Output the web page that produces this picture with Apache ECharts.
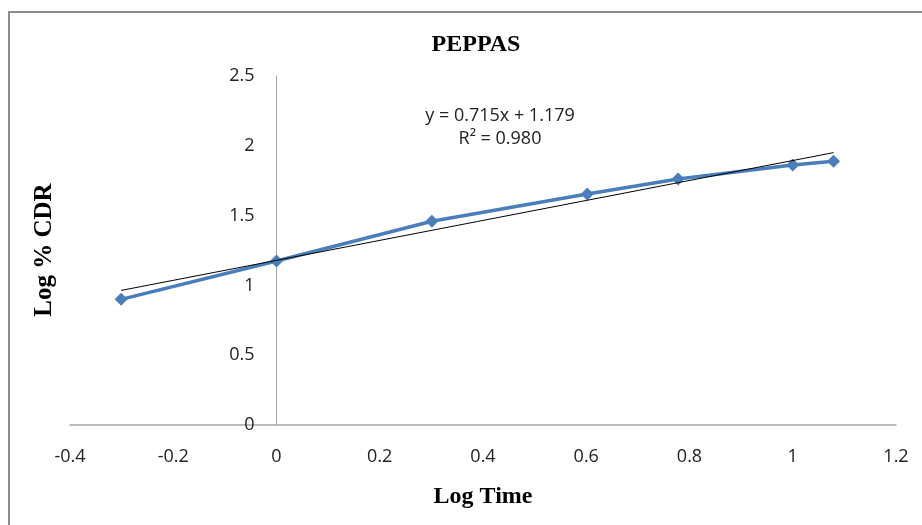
<!DOCTYPE html>
<html>
<head>
<meta charset="utf-8">
<script src="https://cdn.jsdelivr.net/npm/echarts@6/dist/echarts.min.js"></script>
<style>
  html, body { margin: 0; padding: 0; background: #fff; }
  #chart { width: 922px; height: 525px; }
  .frame {
    position: absolute; left: 8px; top: 11px; width: 930px; height: 530px;
    border: 2px solid #8c8c8c; box-sizing: border-box; pointer-events: none;
  }
</style>
</head>
<body>
<div id="chart"></div>
<div class="frame"></div>
<script>
// data
const logTime = [-0.301, 0, 0.301, 0.602, 0.778, 1, 1.079]
const logCdr = [0.90, 1.175, 1.46, 1.655, 1.762, 1.862, 1.89]
// linear trendline end points
const trendX = [-0.301, 1.079]
const trendY = [0.964, 1.951]
const equationText = 'y = 0.715x + 1.179\nR² = 0.980'

const chart = echarts.init(document.getElementById('chart'))

const tickFont = { fontFamily: 'Open Sans', fontSize: 18, color: '#222' }
const gridLeft = 70
const gridRight = 26
const xMin = -0.4
const xMax = 1.2
// move the y axis to x = 0
const plotWidth = 922 - gridLeft - gridRight
const yAxisOffset = -plotWidth * (0 - xMin) / (xMax - xMin)

const option = {
  animation: false,
  title: [
    {
      text: 'PEPPAS',
      left: 471,
      top: 28,
      textAlign: 'center',
      textStyle: { fontFamily: 'Liberation Serif', fontWeight: 'bold', fontSize: 24, color: '#000' }
    },
    {
      text: equationText,
      left: 495,
      top: 99,
      textAlign: 'center',
      textStyle: { fontFamily: 'Open Sans', fontWeight: 'normal', fontSize: 18, color: '#222', lineHeight: 23 }
    }
  ],
  grid: { left: gridLeft, right: gridRight, top: 76, bottom: 100 },
  xAxis: {
    type: 'value',
    min: xMin,
    max: xMax,
    interval: 0.2,
    name: 'Log Time',
    nameLocation: 'middle',
    nameGap: 60,
    nameTextStyle: { fontFamily: 'Liberation Serif', fontWeight: 'bold', fontSize: 24, color: '#000' },
    axisLine: { onZero: false, lineStyle: { color: '#a6a6a6', width: 1.5 } },
    axisTick: { show: false },
    splitLine: { show: false },
    axisLabel: Object.assign({ margin: 23, formatter: v => String(+v.toFixed(1)) }, tickFont)
  },
  yAxis: {
    type: 'value',
    min: 0,
    max: 2.5,
    interval: 0.5,
    offset: yAxisOffset,
    axisLine: { show: true, onZero: false, lineStyle: { color: '#a6a6a6', width: 1 } },
    axisTick: { show: false },
    splitLine: { show: false },
    axisLabel: Object.assign({ margin: 22 }, tickFont)
  },
  graphic: [
    {
      type: 'text',
      x: 45,
      y: 250,
      rotation: Math.PI / 2,
      style: {
        text: 'Log % CDR',
        font: 'bold 25px "Liberation Serif"',
        fill: '#000',
        align: 'center',
        verticalAlign: 'middle'
      }
    }
  ],
  series: [
    {
      type: 'line',
      data: logTime.map((x, i) => [x, logCdr[i]]),
      symbol: 'diamond',
      symbolSize: 13,
      lineStyle: { color: '#4a7ebb', width: 3.5 },
      itemStyle: { color: '#4a7ebb' },
      z: 2
    },
    {
      type: 'line',
      data: trendX.map((x, i) => [x, trendY[i]]),
      symbol: 'none',
      lineStyle: { color: '#000', width: 1 },
      z: 3
    }
  ]
}

chart.setOption(option)
</script>
</body>
</html>
